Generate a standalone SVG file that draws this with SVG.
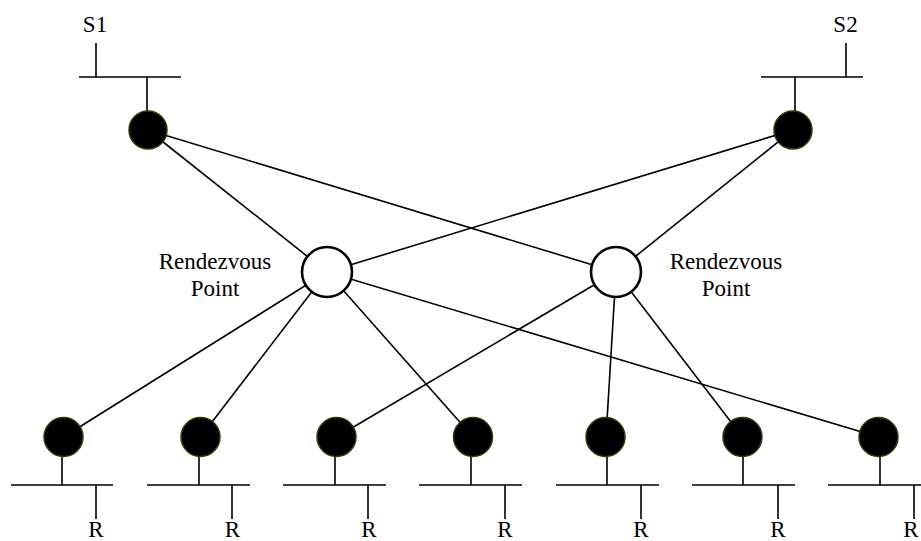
<svg xmlns="http://www.w3.org/2000/svg" width="921" height="541" viewBox="0 0 921 541">
  <style>
    .wire { stroke: #000; stroke-width: 1.6; fill: none; }
    .router { fill: #000; stroke: #3b3600; stroke-width: 1.5; }
    .rp { fill: #fff; stroke: #000; stroke-width: 2.6; }
    .lbl { font-family: "Liberation Serif", "Times New Roman", serif; font-size: 23px; fill: #000; text-anchor: middle; }
  </style>

  <rect width="921" height="541" fill="#fff"/>

  <!-- multicast tree links -->
  <g id="connectors" class="wire">
    <line x1="148" y1="130" x2="327" y2="272"/>
    <line x1="148" y1="130" x2="616" y2="272"/>
    <line x1="793" y1="130" x2="327" y2="272"/>
    <line x1="793" y1="130" x2="616" y2="272"/>
    <line x1="327" y1="272" x2="63.5" y2="437"/>
    <line x1="327" y1="272" x2="200.5" y2="437"/>
    <line x1="327" y1="272" x2="473" y2="437"/>
    <line x1="327" y1="272" x2="878.5" y2="437"/>
    <line x1="616" y1="272" x2="336.5" y2="437"/>
    <line x1="616" y1="272" x2="606" y2="437"/>
    <line x1="616" y1="272" x2="742.5" y2="437"/>
  </g>

  <!-- sources -->
  <g id="src-s1">
    <path class="wire" d="M79 77H181M96 43V77M147 77V111"/>
    <circle class="router" cx="148" cy="130" r="19"/>
    <text class="lbl" x="95" y="32">S1</text>
  </g>
  <g id="src-s2">
    <path class="wire" d="M761 77H863M846 43V77M795 77V111"/>
    <circle class="router" cx="793" cy="130" r="19"/>
    <text class="lbl" x="845.5" y="32">S2</text>
  </g>

  <!-- rendezvous points -->
  <g id="rp-left">
    <circle class="rp" cx="327" cy="272" r="25"/>
    <text class="lbl" x="215" y="269">Rendezvous</text>
    <text class="lbl" x="215" y="296">Point</text>
  </g>
  <g id="rp-right">
    <circle class="rp" cx="616" cy="272" r="25"/>
    <text class="lbl" x="726" y="269">Rendezvous</text>
    <text class="lbl" x="726" y="296">Point</text>
  </g>

  <!-- receivers -->
  <g id="recv-1">
    <path class="wire" d="M11 485H113M62 457V485M96 485V519"/>
    <circle class="router" cx="63.5" cy="437" r="19.5"/>
    <text class="lbl" x="96" y="537">R</text>
  </g>
  <g id="recv-2">
    <path class="wire" d="M147 485H250M199 457V485M232 485V519"/>
    <circle class="router" cx="200.5" cy="437" r="19.5"/>
    <text class="lbl" x="232.5" y="537">R</text>
  </g>
  <g id="recv-3">
    <path class="wire" d="M283 485H386M335 457V485M368 485V519"/>
    <circle class="router" cx="336.5" cy="437" r="19.5"/>
    <text class="lbl" x="369" y="537">R</text>
  </g>
  <g id="recv-4">
    <path class="wire" d="M419 485H522M471 457V485M505 485V519"/>
    <circle class="router" cx="473" cy="437" r="19.5"/>
    <text class="lbl" x="505" y="537">R</text>
  </g>
  <g id="recv-5">
    <path class="wire" d="M556 485H659M607 457V485M641 485V519"/>
    <circle class="router" cx="605.5" cy="437" r="19.5"/>
    <text class="lbl" x="641" y="537">R</text>
  </g>
  <g id="recv-6">
    <path class="wire" d="M692 485H795M743 457V485M778 485V519"/>
    <circle class="router" cx="742.5" cy="437" r="19.5"/>
    <text class="lbl" x="778" y="537">R</text>
  </g>
  <g id="recv-7">
    <path class="wire" d="M828 485H931M880 457V485M914 485V519"/>
    <circle class="router" cx="878.5" cy="437" r="19.5"/>
    <text class="lbl" x="911" y="537">R</text>
  </g>
</svg>
